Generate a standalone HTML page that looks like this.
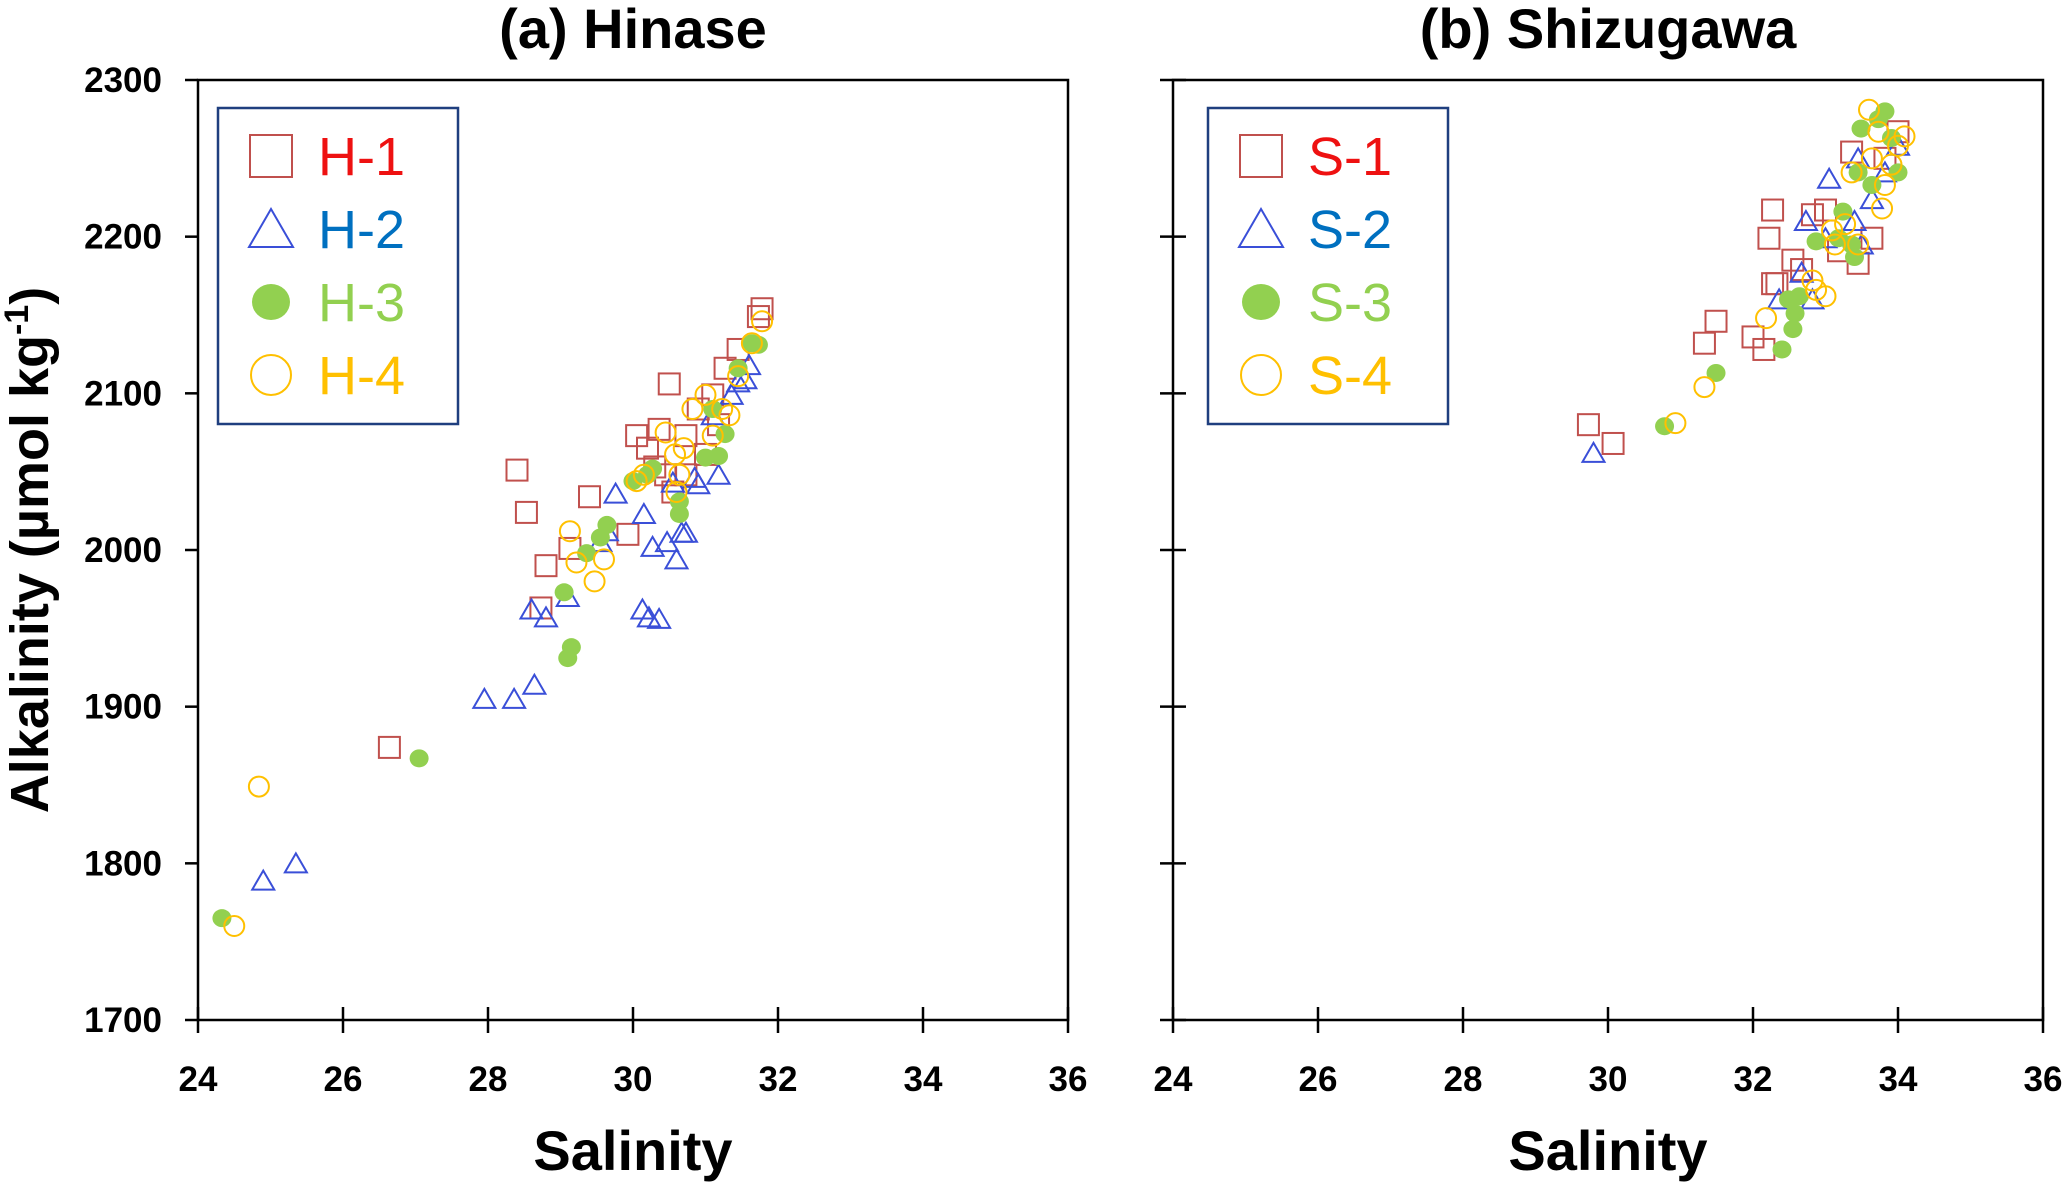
<!DOCTYPE html>
<html><head><meta charset="utf-8"><style>
html,body{margin:0;padding:0;background:#fff;}
svg{display:block;font-family:"Liberation Sans",sans-serif;}
</style></head><body>
<svg id="chart" width="2067" height="1187" viewBox="0 0 2067 1187"></svg>
<script>
// ---- data ----
const xTicks=[24,26,28,30,32,34,36];
const yTicks=[1700,1800,1900,2000,2100,2200,2300];
const h1S=[28.4,28.53,29.4,28.8,28.73,29.13,29.93,26.64,30.5,30.05,30.2,30.36,30.73,30.9,31.1,31.27,31.45,31.73,31.78,30.73,31,31.18,30.55,30.45,30.3];
const h1A=[2051,2024,2034,1990,1963,2001,2010,1874,2106,2073,2065,2077,2073,2090,2099,2116,2128,2149,2154,2048,2061,2080,2037,2048,2053];
const h2S=[24.9,25.35,27.95,28.36,28.64,28.6,28.8,29.1,29.55,29.64,29.76,30.15,30.13,30.22,30.36,30.27,30.47,30.6,30.67,30.73,30.55,30.85,30.9,31.18,31.45,31.55,31.6,31.36,31.1];
const h2A=[1789,1800,1905,1905,1914,1962,1957,1970,2005,2012,2036,2023,1962,1957,1956,2002,2005,1994,2011,2011,2043,2046,2042,2048,2107,2109,2118,2099,2086];
const h3S=[24.33,27.05,29.05,29.1,29.15,29.55,29.64,29.36,30.2,30.27,30.64,30.64,31,31.18,31.27,31.1,31.45,31.64,31.73,30];
const h3A=[1765,1867,1973,1931,1938,2008,2016,1998,2048,2052,2023,2031,2059,2060,2074,2090,2116,2132,2131,2044];
const h4S=[24.84,24.5,29.13,29.22,29.47,29.6,30.05,30.15,30.58,30.7,30.64,30.6,30.82,31,31.23,31.33,31.45,31.64,31.78,30.45,31.1];
const h4A=[1849,1760,2012,1992,1980,1994,2044,2048,2061,2065,2048,2037,2090,2099,2090,2086,2111,2132,2146,2075,2073];
const s1S=[29.73,30.07,31.33,31.49,32,32.15,32.22,32.27,32.33,32.55,32.67,32.27,32.82,33,33.18,33.36,33.45,33.64,33.82,34];
const s1A=[2080,2068,2132,2146,2136,2128,2199,2217,2170,2185,2179,2170,2214,2217,2191,2254,2183,2199,2250,2267];
const s2S=[29.8,32.36,33,32.73,33.05,32.67,33.4,33.5,33.64,33.82,34,32.82,33.45];
const s2A=[2062,2160,2199,2210,2237,2177,2210,2195,2224,2241,2258,2160,2250];
const s3S=[30.78,31.49,32.4,32.55,32.58,32.64,32.49,32.87,33.18,33.4,33.36,33.49,33.73,33.82,33.64,33.45,33.91,33.24,34];
const s3A=[2079,2113,2128,2141,2151,2162,2160,2197,2199,2187,2195,2269,2275,2280,2233,2241,2263,2216,2241];
const s4S=[30.93,31.33,32.18,32.82,32.87,33,33.09,33.13,33.45,33.6,33.73,33.78,33.82,34,34.09,33.36,33.64,33.27,33.91];
const s4A=[2081,2104,2148,2172,2166,2162,2204,2195,2195,2281,2267,2218,2233,2258,2264,2241,2250,2208,2246];

const NS="http://www.w3.org/2000/svg";
const svg=document.getElementById('chart');
function mk(tag,attrs,parent){const e=document.createElementNS(NS,tag);for(const k in attrs)e.setAttribute(k,attrs[k]);(parent||svg).appendChild(e);return e;}
const Y0=80,Y1=1020,XMIN=24,XMAX=36,AMIN=1700,AMAX=2300;
function yScale(a){return Y1-(a-AMIN)/(AMAX-AMIN)*(Y1-Y0);}
function xScaleFn(L,R){return s=>L+(s-XMIN)/(XMAX-XMIN)*(R-L);}

const panels=[
 {L:198,R:1068,title:"(a) Hinase",key:"hinase",yLabels:true,legX:20,
  series:[[h1S,h1A,'sq','H-1'],[h2S,h2A,'tri','H-2'],[h3S,h3A,'dot','H-3'],[h4S,h4A,'circ','H-4']]},
 {L:1173,R:2043,title:"(b) Shizugawa",key:"shizugawa",yLabels:false,legX:35,
  series:[[s1S,s1A,'sq','S-1'],[s2S,s2A,'tri','S-2'],[s3S,s3A,'dot','S-3'],[s4S,s4A,'circ','S-4']]}
];
const markerCol={sq:'#c0504d',tri:'#3a4fd8',dot:'#92d050',circ:'#ffc000'};
const labelCol={sq:'#ee1111',tri:'#0070c0',dot:'#92d050',circ:'#ffc000'};

function marker(g,type,x,y,scale){
  const s=scale||1;let e;
  if(type==='sq'){e=mk('rect',{x:x-10.5*s,y:y-10.5*s,width:21*s,height:21*s,fill:'none',stroke:markerCol.sq,'stroke-width':2},g);}
  else if(type==='tri'){const h=10*s;e=mk('polygon',{points:`${x},${y-h} ${x-11*s},${y+h*0.9} ${x+11*s},${y+h*0.9}`,fill:'none',stroke:markerCol.tri,'stroke-width':2},g);}
  else if(type==='dot'){e=mk('ellipse',{cx:x,cy:y,rx:9.5*s,ry:9*s,fill:markerCol.dot},g);}
  else {e=mk('circle',{cx:x,cy:y,r:10*s,fill:'none',stroke:markerCol.circ,'stroke-width':2},g);}
  return e;
}

panels.forEach(p=>{
  const xs=xScaleFn(p.L,p.R);
  const g=mk('g',{});
  
  
  const t=mk('text',{x:(p.L+p.R)/2,y:48,'text-anchor':'middle','font-size':56,'font-weight':'bold'},g);
  t.textContent=p.title;
  
  
  const frame=mk('rect',{x:p.L,y:Y0,width:p.R-p.L,height:Y1-Y0,fill:'none',stroke:'#000','stroke-width':2.5},g);
  
  
  yTicks.forEach(v=>{
    const y=yScale(v);
    const tk=mk('line',{x1:p.L-13,x2:p.yLabels?p.L:p.L+13,y1:y,y2:y,stroke:'#000','stroke-width':2.5},g);
    
    
    if(p.yLabels){
      const l=mk('text',{x:p.L-36,y:y+12,'text-anchor':'end','font-size':35,'font-weight':'bold'},g);
      l.textContent=v;
      
      
    }
  });
  xTicks.forEach(v=>{
    const x=xs(v);
    const tk=mk('line',{x1:x,x2:x,y1:Y1-13,y2:Y1+13,stroke:'#000','stroke-width':2.5},g);
    
    
    const l=mk('text',{x:x,y:1091,'text-anchor':'middle','font-size':35,'font-weight':'bold'},g);
    l.textContent=v;
    
    
  });
  const xt=mk('text',{x:(p.L+p.R)/2,y:1170,'text-anchor':'middle','font-size':56,'font-weight':'bold'},g);
  xt.textContent='Salinity';
  
  
  p.series.forEach(sr=>{
    const sg=mk('g',{},g);
    
    
    sr[0].forEach((s,i)=>{
      const m=marker(sg,sr[2],xs(s),yScale(sr[1][i]));
      
      
    });
  });
  // legend
  const lx=p.L+p.legX, ly=108;
  const lg=mk('g',{},g);
  
  
  mk('rect',{x:lx,y:ly,width:240,height:316,fill:'#fff',stroke:'#1f3f7f','stroke-width':2.5},lg);
  p.series.forEach((sr,i)=>{
    const cy=ly+48+i*73;
    const m=marker(lg,sr[2],lx+53,cy,2);
    
    
    const tx=mk('text',{x:lx+100,y:cy+19,'font-size':54,fill:labelCol[sr[2]]},lg);
    tx.textContent=sr[3];
    
    
  });
});
const yt=mk('text',{x:0,y:0,'text-anchor':'middle','font-size':54,'font-weight':'bold',transform:'translate(48,550) rotate(-90)'});
yt.innerHTML='Alkalinity (µmol kg<tspan dy="-20" font-size="34">-1</tspan><tspan dy="20">)</tspan>';


</script>
</body></html>
